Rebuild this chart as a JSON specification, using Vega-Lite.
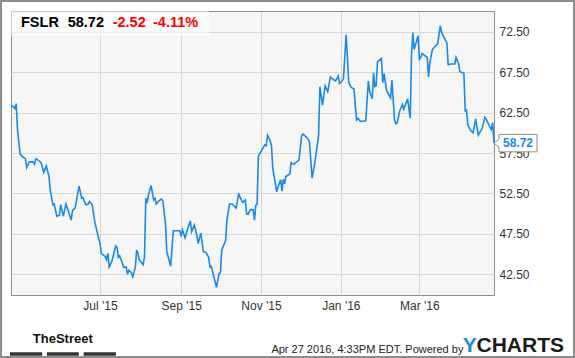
{
  "$schema": "https://vega.github.io/schema/vega-lite/v6.json",
  "width": 483,
  "height": 284,
  "autosize": "none",
  "padding": {"left": 11, "top": 11, "right": 81, "bottom": 63},
  "background": "white",
  "config": {
    "view": {"fill": "#f6f6f6", "stroke": "#8c8c8c", "strokeWidth": 1},
    "font": "Liberation Sans",
    "axis": {"labelFont": "Liberation Sans", "labelFontSize": 12, "labelColor": "#333333", "gridColor": "#d7d7d7", "gridWidth": 1, "domain": false, "ticks": false, "title": null}
  },
  "datasets": {
    "one": [{}],
    "prices": [
      {"date": "2015-04-24", "close": 63.4}, {"date": "2015-04-26", "close": 63.2}, {"date": "2015-04-27", "close": 63.0}, {"date": "2015-04-28", "close": 63.6}, {"date": "2015-04-29", "close": 60.3},
      {"date": "2015-05-01", "close": 57.4}, {"date": "2015-05-03", "close": 57.0}, {"date": "2015-05-05", "close": 56.8}, {"date": "2015-05-06", "close": 55.7}, {"date": "2015-05-08", "close": 56.4},
      {"date": "2015-05-11", "close": 56.4}, {"date": "2015-05-12", "close": 56.1}, {"date": "2015-05-13", "close": 56.8}, {"date": "2015-05-15", "close": 56.6}, {"date": "2015-05-17", "close": 56.3},
      {"date": "2015-05-19", "close": 55.1}, {"date": "2015-05-21", "close": 55.9}, {"date": "2015-05-23", "close": 54.6}, {"date": "2015-05-24", "close": 52.9}, {"date": "2015-05-26", "close": 51.1},
      {"date": "2015-05-27", "close": 51.2}, {"date": "2015-05-29", "close": 49.7}, {"date": "2015-05-31", "close": 49.8}, {"date": "2015-06-01", "close": 51.1}, {"date": "2015-06-03", "close": 49.7},
      {"date": "2015-06-05", "close": 51.2}, {"date": "2015-06-07", "close": 50.2}, {"date": "2015-06-09", "close": 49.2}, {"date": "2015-06-10", "close": 50.4}, {"date": "2015-06-12", "close": 50.7},
      {"date": "2015-06-15", "close": 53.4}, {"date": "2015-06-17", "close": 51.9}, {"date": "2015-06-18", "close": 52.0}, {"date": "2015-06-20", "close": 51.1}, {"date": "2015-06-22", "close": 51.2},
      {"date": "2015-06-23", "close": 51.5}, {"date": "2015-06-25", "close": 51.1}, {"date": "2015-06-27", "close": 49.0}, {"date": "2015-06-29", "close": 47.6}, {"date": "2015-07-01", "close": 46.3},
      {"date": "2015-07-02", "close": 45.1}, {"date": "2015-07-05", "close": 44.7}, {"date": "2015-07-06", "close": 44.3}, {"date": "2015-07-07", "close": 45.1}, {"date": "2015-07-08", "close": 43.4},
      {"date": "2015-07-10", "close": 44.1}, {"date": "2015-07-13", "close": 46.0}, {"date": "2015-07-14", "close": 45.8}, {"date": "2015-07-15", "close": 44.6}, {"date": "2015-07-16", "close": 44.8},
      {"date": "2015-07-18", "close": 43.9}, {"date": "2015-07-19", "close": 43.4}, {"date": "2015-07-21", "close": 43.4}, {"date": "2015-07-22", "close": 42.5}, {"date": "2015-07-23", "close": 43.0},
      {"date": "2015-07-25", "close": 42.7}, {"date": "2015-07-26", "close": 42.2}, {"date": "2015-07-28", "close": 43.4}, {"date": "2015-07-29", "close": 45.5}, {"date": "2015-07-30", "close": 45.1},
      {"date": "2015-07-31", "close": 44.3}, {"date": "2015-08-03", "close": 43.7}, {"date": "2015-08-04", "close": 44.7}, {"date": "2015-08-05", "close": 51.9}, {"date": "2015-08-06", "close": 51.3},
      {"date": "2015-08-07", "close": 52.3}, {"date": "2015-08-09", "close": 53.5}, {"date": "2015-08-11", "close": 51.7}, {"date": "2015-08-12", "close": 51.9}, {"date": "2015-08-13", "close": 51.2},
      {"date": "2015-08-15", "close": 51.6}, {"date": "2015-08-17", "close": 51.8}, {"date": "2015-08-18", "close": 51.6}, {"date": "2015-08-20", "close": 48.8}, {"date": "2015-08-21", "close": 45.3},
      {"date": "2015-08-24", "close": 43.5}, {"date": "2015-08-26", "close": 47.9}, {"date": "2015-08-28", "close": 47.9}, {"date": "2015-08-31", "close": 47.9}, {"date": "2015-09-01", "close": 47.2},
      {"date": "2015-09-02", "close": 48.0}, {"date": "2015-09-04", "close": 47.0}, {"date": "2015-09-06", "close": 48.2}, {"date": "2015-09-08", "close": 49.1}, {"date": "2015-09-09", "close": 47.8},
      {"date": "2015-09-11", "close": 48.6}, {"date": "2015-09-13", "close": 47.3}, {"date": "2015-09-14", "close": 46.3}, {"date": "2015-09-16", "close": 47.6}, {"date": "2015-09-18", "close": 45.3},
      {"date": "2015-09-20", "close": 45.2}, {"date": "2015-09-22", "close": 44.6}, {"date": "2015-09-23", "close": 43.4}, {"date": "2015-09-24", "close": 43.5}, {"date": "2015-09-26", "close": 42.2},
      {"date": "2015-09-28", "close": 40.9}, {"date": "2015-09-30", "close": 42.6}, {"date": "2015-10-01", "close": 42.7}, {"date": "2015-10-02", "close": 45.5}, {"date": "2015-10-05", "close": 46.7},
      {"date": "2015-10-06", "close": 49.3}, {"date": "2015-10-08", "close": 51.2}, {"date": "2015-10-10", "close": 51.2}, {"date": "2015-10-13", "close": 50.7}, {"date": "2015-10-15", "close": 52.5},
      {"date": "2015-10-16", "close": 52.0}, {"date": "2015-10-18", "close": 51.4}, {"date": "2015-10-20", "close": 51.7}, {"date": "2015-10-21", "close": 50.0}, {"date": "2015-10-22", "close": 49.9},
      {"date": "2015-10-24", "close": 50.5}, {"date": "2015-10-26", "close": 50.5}, {"date": "2015-10-27", "close": 49.2}, {"date": "2015-10-28", "close": 51.0}, {"date": "2015-10-29", "close": 51.2},
      {"date": "2015-10-30", "close": 57.1}, {"date": "2015-11-01", "close": 57.7}, {"date": "2015-11-04", "close": 58.5}, {"date": "2015-11-05", "close": 58.4}, {"date": "2015-11-06", "close": 59.7},
      {"date": "2015-11-08", "close": 59.0}, {"date": "2015-11-09", "close": 58.4}, {"date": "2015-11-10", "close": 55.6}, {"date": "2015-11-13", "close": 52.7}, {"date": "2015-11-14", "close": 53.3},
      {"date": "2015-11-16", "close": 54.2}, {"date": "2015-11-17", "close": 52.8}, {"date": "2015-11-18", "close": 54.25}, {"date": "2015-11-19", "close": 53.7}, {"date": "2015-11-20", "close": 54.6},
      {"date": "2015-11-23", "close": 54.9}, {"date": "2015-11-24", "close": 56.3}, {"date": "2015-11-26", "close": 56.1}, {"date": "2015-11-29", "close": 56.5}, {"date": "2015-11-30", "close": 56.6},
      {"date": "2015-12-02", "close": 59.6}, {"date": "2015-12-03", "close": 59.85}, {"date": "2015-12-06", "close": 59.4}, {"date": "2015-12-08", "close": 58.9}, {"date": "2015-12-10", "close": 54.4},
      {"date": "2015-12-12", "close": 56.2}, {"date": "2015-12-14", "close": 58.5}, {"date": "2015-12-15", "close": 59.7}, {"date": "2015-12-16", "close": 65.7}, {"date": "2015-12-18", "close": 63.4},
      {"date": "2015-12-20", "close": 65.8}, {"date": "2015-12-22", "close": 65.1}, {"date": "2015-12-24", "close": 66.9}, {"date": "2015-12-26", "close": 66.6}, {"date": "2015-12-28", "close": 66.4},
      {"date": "2015-12-30", "close": 67.0}, {"date": "2015-12-31", "close": 66.1}, {"date": "2016-01-02", "close": 66.4}, {"date": "2016-01-03", "close": 66.7}, {"date": "2016-01-05", "close": 72.1},
      {"date": "2016-01-06", "close": 69.4}, {"date": "2016-01-07", "close": 66.2}, {"date": "2016-01-09", "close": 65.6}, {"date": "2016-01-11", "close": 65.4}, {"date": "2016-01-13", "close": 61.6},
      {"date": "2016-01-14", "close": 61.8}, {"date": "2016-01-16", "close": 61.4}, {"date": "2016-01-18", "close": 61.45}, {"date": "2016-01-20", "close": 61.45}, {"date": "2016-01-22", "close": 66.4},
      {"date": "2016-01-23", "close": 65.1}, {"date": "2016-01-25", "close": 64.2}, {"date": "2016-01-26", "close": 67.4}, {"date": "2016-01-27", "close": 65.7}, {"date": "2016-01-28", "close": 65.8},
      {"date": "2016-01-29", "close": 68.8}, {"date": "2016-02-01", "close": 69.2}, {"date": "2016-02-02", "close": 66.2}, {"date": "2016-02-03", "close": 67.3}, {"date": "2016-02-05", "close": 65.2},
      {"date": "2016-02-08", "close": 64.3}, {"date": "2016-02-09", "close": 66.5}, {"date": "2016-02-11", "close": 61.6}, {"date": "2016-02-12", "close": 61.1}, {"date": "2016-02-13", "close": 61.2},
      {"date": "2016-02-15", "close": 62.7}, {"date": "2016-02-17", "close": 63.5}, {"date": "2016-02-18", "close": 62.9}, {"date": "2016-02-21", "close": 64.2}, {"date": "2016-02-23", "close": 61.8},
      {"date": "2016-02-24", "close": 69.8}, {"date": "2016-02-25", "close": 72.4}, {"date": "2016-02-26", "close": 70.3}, {"date": "2016-02-29", "close": 72.0}, {"date": "2016-03-01", "close": 69.1},
      {"date": "2016-03-02", "close": 69.3}, {"date": "2016-03-03", "close": 69.8}, {"date": "2016-03-07", "close": 69.3}, {"date": "2016-03-08", "close": 66.9}, {"date": "2016-03-09", "close": 68.7},
      {"date": "2016-03-11", "close": 70.3}, {"date": "2016-03-13", "close": 70.7}, {"date": "2016-03-15", "close": 71.0}, {"date": "2016-03-17", "close": 73.2}, {"date": "2016-03-18", "close": 72.4},
      {"date": "2016-03-21", "close": 71.4}, {"date": "2016-03-22", "close": 71.1}, {"date": "2016-03-23", "close": 68.4}, {"date": "2016-03-25", "close": 68.5}, {"date": "2016-03-28", "close": 68.5},
      {"date": "2016-03-29", "close": 69.3}, {"date": "2016-03-31", "close": 68.5}, {"date": "2016-04-01", "close": 67.55}, {"date": "2016-04-04", "close": 67.35}, {"date": "2016-04-05", "close": 62.7},
      {"date": "2016-04-06", "close": 62.8}, {"date": "2016-04-07", "close": 61.0}, {"date": "2016-04-09", "close": 60.3}, {"date": "2016-04-11", "close": 60.0}, {"date": "2016-04-13", "close": 61.7},
      {"date": "2016-04-15", "close": 59.7}, {"date": "2016-04-18", "close": 60.55}, {"date": "2016-04-20", "close": 61.9}, {"date": "2016-04-21", "close": 61.7}, {"date": "2016-04-23", "close": 61.0},
      {"date": "2016-04-25", "close": 60.4}, {"date": "2016-04-26", "close": 61.24}, {"date": "2016-04-27", "close": 58.72}
    ]
  },
  "layer": [
    {
      "data": {"name": "one"},
      "mark": {"type": "rect", "fill": null, "filled": false, "stroke": "#8c8c8c", "strokeWidth": 2, "clip": false},
      "encoding": {
        "x": {"datum": {"year": 2015, "month": 4, "date": 16, "hours": 8, "minutes": 40, "utc": true}, "type": "temporal"},
        "x2": {"datum": {"year": 2016, "month": 6, "date": 27, "hours": 3, "utc": true}},
        "y": {"datum": 76.286, "type": "quantitative"},
        "y2": {"datum": 32.287}
      }
    },
    {
      "data": {"name": "prices"},
      "mark": {"type": "line", "color": "#1a8ae6", "strokeWidth": 1.6},
      "encoding": {
        "x": {
          "field": "date", "type": "temporal",
          "scale": {"type": "utc", "domain": [{"year": 2015, "month": 4, "date": 24, "utc": true}, {"year": 2016, "month": 4, "date": 27, "utc": true}], "nice": false},
          "axis": {
            "orient": "bottom", "grid": true, "zindex": 0,
            "values": [
              {"year": 2015, "month": 7, "date": 1, "utc": true},
              {"year": 2015, "month": 9, "date": 1, "utc": true},
              {"year": 2015, "month": 11, "date": 1, "utc": true},
              {"year": 2016, "month": 1, "date": 1, "utc": true},
              {"year": 2016, "month": 3, "date": 1, "utc": true}
            ],
            "labelExpr": "utcFormat(datum.value, \"%b '%y\")", "labelPadding": 5
          }
        },
        "y": {
          "field": "close", "type": "quantitative",
          "scale": {"domain": [39.95, 75.05], "nice": false, "zero": false},
          "axis": {
            "orient": "right", "grid": true, "zindex": 0,
            "values": [42.5, 47.5, 52.5, 57.5, 62.5, 67.5, 72.5],
            "format": ".2f", "labelPadding": 5
          }
        }
      }
    },
    {
      "data": {"name": "one"},
      "mark": {"type": "rect", "fill": "white", "opacity": 0.55},
      "encoding": {
        "x": {"datum": {"year": 2015, "month": 4, "date": 24, "utc": true}, "type": "temporal"},
        "x2": {"datum": {"year": 2015, "month": 9, "date": 22, "hours": 6, "minutes": 30, "utc": true}},
        "y": {"datum": 75.05, "type": "quantitative"},
        "y2": {"datum": 71.96}
      }
    },
    {
      "data": {"name": "one"},
      "mark": {"type": "text", "text": "FSLR", "align": "left", "baseline": "middle", "dx": 10, "dy": 12.3, "fontSize": 14.5, "fontWeight": "bold", "color": "#000000"},
      "encoding": {"x": {"datum": {"year": 2015, "month": 4, "date": 24, "utc": true}, "type": "temporal"}, "y": {"datum": 75.05, "type": "quantitative"}}
    },
    {
      "data": {"name": "one"},
      "mark": {"type": "text", "text": "58.72", "align": "left", "baseline": "middle", "dx": 56.7, "dy": 12.3, "fontSize": 14.5, "fontWeight": "bold", "color": "#000000"},
      "encoding": {"x": {"datum": {"year": 2015, "month": 4, "date": 24, "utc": true}, "type": "temporal"}, "y": {"datum": 75.05, "type": "quantitative"}}
    },
    {
      "data": {"name": "one"},
      "mark": {"type": "text", "text": "-2.52", "align": "left", "baseline": "middle", "dx": 101.7, "dy": 12.3, "fontSize": 14.5, "fontWeight": "bold", "color": "#ff0000"},
      "encoding": {"x": {"datum": {"year": 2015, "month": 4, "date": 24, "utc": true}, "type": "temporal"}, "y": {"datum": 75.05, "type": "quantitative"}}
    },
    {
      "data": {"name": "one"},
      "mark": {"type": "text", "text": "-4.11%", "align": "left", "baseline": "middle", "dx": 142, "dy": 12.3, "fontSize": 14.5, "fontWeight": "bold", "color": "#ff0000"},
      "encoding": {"x": {"datum": {"year": 2015, "month": 4, "date": 24, "utc": true}, "type": "temporal"}, "y": {"datum": 75.05, "type": "quantitative"}}
    },
    {
      "data": {"name": "one"},
      "mark": {"type": "point", "shape": "M0,0 L0.5,-0.4 L0.5,-0.87 L4.3,-0.87 L4.3,0.87 L0.5,0.87 L0.5,0.4 Z", "size": 400, "filled": true, "fill": "white", "stroke": "#8c8c8c", "strokeWidth": 1, "opacity": 1},
      "encoding": {"x": {"datum": {"year": 2016, "month": 4, "date": 27, "utc": true}, "type": "temporal"}, "y": {"datum": 58.72, "type": "quantitative"}}
    },
    {
      "data": {"name": "one"},
      "mark": {"type": "text", "text": "58.72", "align": "center", "baseline": "middle", "dx": 24, "fontSize": 12, "fontWeight": "bold", "color": "#1a8ae6"},
      "encoding": {"x": {"datum": {"year": 2016, "month": 4, "date": 27, "utc": true}, "type": "temporal"}, "y": {"datum": 58.72, "type": "quantitative"}}
    },
    {
      "data": {"name": "one"},
      "mark": {"type": "text", "text": "TheStreet", "align": "center", "baseline": "middle", "dx": 51.8, "dy": 44, "fontSize": 13, "fontWeight": "bold", "font": "Liberation Sans", "color": "#111111"},
      "encoding": {"x": {"datum": {"year": 2015, "month": 4, "date": 24, "utc": true}, "type": "temporal"}, "y": {"datum": 39.95, "type": "quantitative"}}
    },
    {
      "data": {"name": "one"},
      "mark": {"type": "rule", "color": "#333333", "strokeWidth": 3.5},
      "encoding": {"x": {"datum": {"year": 2015, "month": 4, "date": 23, "hours": 3, "minutes": 50, "utc": true}, "type": "temporal"}, "x2": {"datum": {"year": 2015, "month": 5, "date": 17, "hours": 20, "minutes": 10, "utc": true}}, "y": {"datum": 32.658, "type": "quantitative"}}
    },
    {
      "data": {"name": "one"},
      "mark": {"type": "rule", "color": "#333333", "strokeWidth": 3.5},
      "encoding": {"x": {"datum": {"year": 2015, "month": 5, "date": 21, "hours": 10, "minutes": 20, "utc": true}, "type": "temporal"}, "x2": {"datum": {"year": 2015, "month": 6, "date": 14, "hours": 19, "minutes": 10, "utc": true}}, "y": {"datum": 32.658, "type": "quantitative"}}
    },
    {
      "data": {"name": "one"},
      "mark": {"type": "rule", "color": "#333333", "strokeWidth": 3.5},
      "encoding": {"x": {"datum": {"year": 2015, "month": 6, "date": 18, "hours": 11, "minutes": 15, "utc": true}, "type": "temporal"}, "x2": {"datum": {"year": 2015, "month": 7, "date": 13, "hours": 3, "minutes": 20, "utc": true}}, "y": {"datum": 32.658, "type": "quantitative"}}
    },
    {
      "data": {"name": "one"},
      "mark": {"type": "text", "text": "Apr 27 2016, 4:33PM EDT. Powered by", "align": "left", "baseline": "middle", "dx": 260.4, "dy": 54.5, "fontSize": 11, "color": "#222222"},
      "encoding": {"x": {"datum": {"year": 2015, "month": 4, "date": 24, "utc": true}, "type": "temporal"}, "y": {"datum": 39.95, "type": "quantitative"}}
    },
    {
      "data": {"name": "one"},
      "mark": {"type": "text", "text": "Y", "align": "left", "baseline": "middle", "dx": 451.8, "dy": 51, "fontSize": 21, "fontWeight": "bold", "color": "#1a8ae6"},
      "encoding": {"x": {"datum": {"year": 2015, "month": 4, "date": 24, "utc": true}, "type": "temporal"}, "y": {"datum": 39.95, "type": "quantitative"}}
    },
    {
      "data": {"name": "one"},
      "mark": {"type": "text", "text": "CHARTS", "align": "left", "baseline": "middle", "dx": 465.5, "dy": 51, "fontSize": 21, "fontWeight": "bold", "color": "#1b1b1b"},
      "encoding": {"x": {"datum": {"year": 2015, "month": 4, "date": 24, "utc": true}, "type": "temporal"}, "y": {"datum": 39.95, "type": "quantitative"}}
    }
  ]
}
